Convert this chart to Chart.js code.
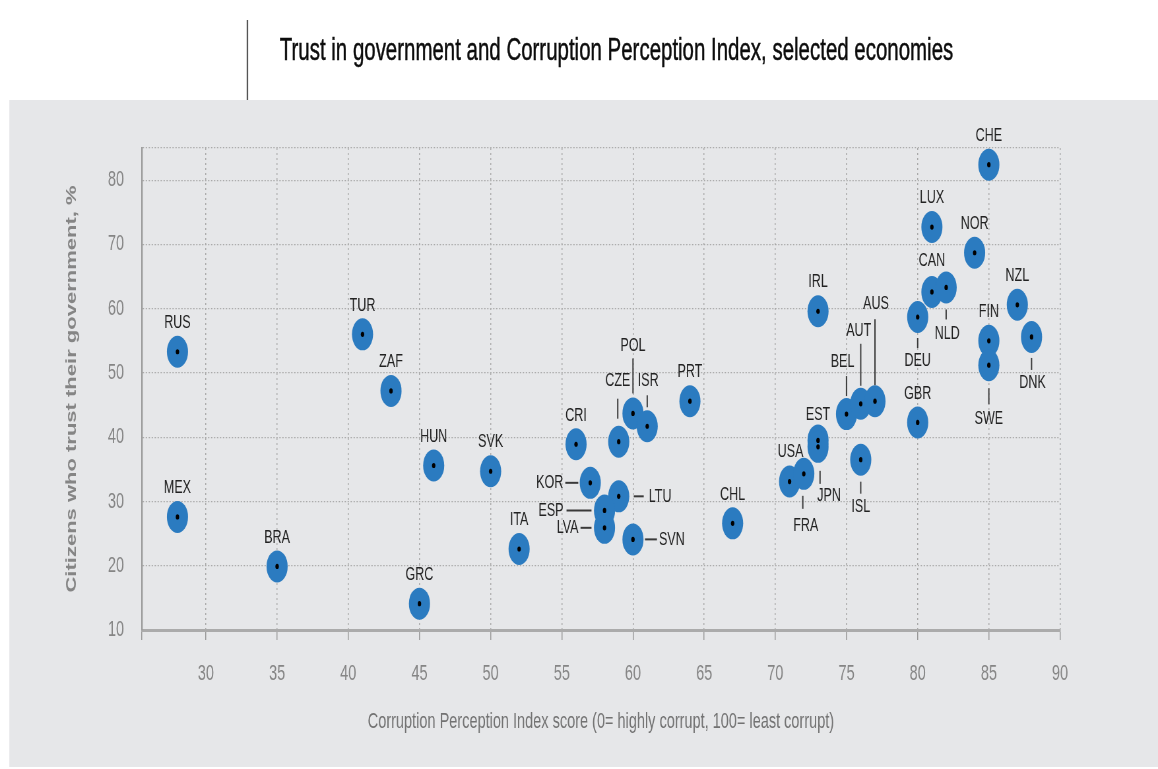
<!DOCTYPE html>
<html>
<head>
<meta charset="utf-8">
<title>Trust in government and Corruption Perception Index</title>
<script src="https://cdn.jsdelivr.net/npm/chart.js@4.4.1/dist/chart.umd.min.js"></script>
<style>
  html, body { margin: 0; padding: 0; background: #fff; overflow: hidden; }
  /* the source graphic is squeezed sideways, so the whole stage is drawn wide and scaled down */
  #stage { position: absolute; left: 0; top: 0; width: 1755px; height: 769px; transform-origin: 0 0; transform: scaleX(0.65983); }
  #panel { position: absolute; left: 14px; top: 100px; width: 1741px; height: 667px; background: #e6e7e9; }
  #rule { position: absolute; left: 374px; top: 20px; width: 1.6px; height: 80px; background: #555; }
  #title { position: absolute; left: 424px; top: 32px; font: 31px "Liberation Sans", Arial, sans-serif; line-height: 36px; color: #0d0d0d; white-space: nowrap; -webkit-text-stroke: 0.5px #0d0d0d; }
  #box { position: absolute; left: 0; top: 0; width: 1755px; height: 769px; }
</style>
</head>
<body>
<div id="stage">
  <div id="panel"></div>
  <div id="rule"></div>
  <div id="title">Trust in government and Corruption Perception Index, selected economies</div>
  <div id="box"><canvas id="chart"></canvas></div>
</div>
<script>
const SX = 1158 / 1755;

// economies, CPI score (x) and % who trust their government (y)
const codes = ['RUS','MEX','BRA','TUR','ZAF','HUN','GRC','SVK','ITA','CRI',
               'KOR','CZE','POL','ISR','PRT','LTU','ESP','LVA','SVN','CHL',
               'IRL','EST','JPN','USA','FRA','BEL','AUT','AUS','ISL','GBR',
               'DEU','CAN','LUX','NLD','NOR','CHE','FIN','SWE','NZL','DNK'];
const cpi = [28, 28, 35, 41, 43, 46, 45, 50, 52, 56,
             57, 59, 60, 61, 64, 59, 58, 58, 60, 67,
             73, 73, 73, 71, 72, 75, 76, 77, 76, 80,
             80, 81, 81, 82, 84, 85, 85, 85, 87, 88];
const trust = [53.3, 27.6, 19.9, 56.0, 47.2, 35.6, 14.1, 34.7, 22.6, 38.9,
               32.9, 39.3, 43.7, 41.7, 45.6, 30.8, 28.6, 25.9, 24.1, 26.6,
               59.6, 39.5, 38.5, 33.1, 34.3, 43.6, 45.2, 45.6, 36.5, 42.3,
               58.7, 62.6, 72.7, 63.3, 68.7, 82.4, 55.0, 51.2, 60.6, 55.6];

const xTicksStep = 5;
const yTicksStep = 10;

// label placement (screen px relative to the point): [dx, dy, align, leader x1, y1, x2, y2]
const labelPlace = {
  POL: [0, -68, 'center', 0, -55, 0, -20],
  CZE: [-1, -61, 'center', -1, -43, -1, -23],
  ISR: [1, -46, 'center', 0, -31, 0, -19],
  KOR: [-27, 0, 'right', -25, 0, -12, 0],
  ESP: [-41, 0, 'right', -38, 0, -13, 0],
  LVA: [-26, 0, 'right', -24, 0, -13, 0],
  LTU: [30, 0, 'left', 15, 0, 25, 0],
  SVN: [26, 0, 'left', 12, 0, 24, 0],
  BEL: [-4, -52, 'center', 0, -38, 0, -18],
  AUT: [-2, -73, 'center', 0, -60, 0, -18],
  AUS: [1, -97, 'center', 0, -82, 0, -16],
  EST: [0, -26, 'center'],
  JPN: [11, 49, 'center', 2, 24, 2, 37],
  FRA: [2, 52, 'center', -1, 22, -1, 35],
  ISL: [0, 47, 'center', 0, 22, 0, 34],
  DEU: [0, 44, 'center', 0, 21, 0, 31],
  NLD: [1, 46, 'center', 0, 22, 0, 32],
  SWE: [0, 54, 'center', 0, 23, 0, 39],
  DNK: [1, 46, 'center', 0, 21, 0, 33],
  CAN: [0, -31, 'center'],
  USA: [1, -30, 'center']
};

const points = codes.map((c, i) => ({ x: cpi[i], y: trust[i] }));

const codeLabels = {
  id: 'codeLabels',
  afterDatasetsDraw(chart) {
    const ctx = chart.ctx;
    const meta = chart.getDatasetMeta(0);
    ctx.save();
    ctx.font = '19px "Liberation Sans", Arial, sans-serif';
    ctx.fillStyle = '#222';
    ctx.strokeStyle = '#3a3a3a';
    ctx.lineWidth = 2;
    ctx.textBaseline = 'middle';
    meta.data.forEach((p, i) => {
      const pl = labelPlace[codes[i]] || [0, -29, 'center'];
      if (pl.length > 3) {
        ctx.beginPath();
        ctx.moveTo(p.x + pl[3] / SX, p.y + pl[4]);
        ctx.lineTo(p.x + pl[5] / SX, p.y + pl[6]);
        ctx.stroke();
      }
      ctx.textAlign = pl[2];
      ctx.fillText(codes[i], p.x + pl[0] / SX, p.y + pl[1]);
    });
    ctx.restore();
  }
};

new Chart(document.getElementById('chart').getContext('2d'), {
  type: 'scatter',
  data: {
    datasets: [
      { data: points, order: 2, pointRadius: 16, pointHoverRadius: 16, backgroundColor: '#2b7bc0', borderWidth: 0, clip: false },
      { data: points, order: 1, pointRadius: 2.6, pointHoverRadius: 2.6, backgroundColor: '#000', borderWidth: 0, clip: false }
    ]
  },
  options: {
    responsive: true,
    maintainAspectRatio: false,
    animation: false,
    events: [],
    layout: { padding: { top: 148, right: 148.5, bottom: 34, left: 0 } },
    plugins: { legend: { display: false }, tooltip: { enabled: false } },
    scales: {
      x: {
        type: 'linear', min: 25.5, max: 90,
        afterFit: s => { s.height = 105; },
        ticks: {
          stepSize: xTicksStep, padding: 21, color: '#858585',
          font: { family: '"Liberation Sans", Arial, sans-serif', size: 22 },
          callback: v => (v % xTicksStep === 0 ? v : '')
        },
        grid: { color: '#a9a9a9', lineWidth: 1.5, drawTicks: true, tickLength: 10, tickColor: '#999', tickWidth: 1.5, tickBorderDash: [] },
        border: { display: true, color: '#ababab', width: 3, dash: [2, 3] },
        title: {
          display: true, text: 'Corruption Perception Index score (0= highly corrupt, 100= least corrupt)',
          color: '#727272', padding: { top: 0, bottom: 0 },
          font: { family: '"Liberation Sans", Arial, sans-serif', size: 22 }
        }
      },
      y: {
        type: 'linear', min: 10, max: 85,
        afterFit: s => { s.width = 215; },
        ticks: {
          stepSize: yTicksStep, padding: 27, color: '#858585',
          font: { family: '"Liberation Sans", Arial, sans-serif', size: 22 },
          callback: v => (v % yTicksStep === 0 ? v : '')
        },
        grid: { color: '#a9a9a9', lineWidth: 1.2, drawTicks: false },
        border: { display: true, color: '#9a9a9a', width: 2.3, dash: [2, 2.5] },
        title: {
          display: true, text: 'Citizens who trust their government, %',
          color: '#858585', padding: { top: 96, bottom: 0 },
          font: { family: '"Liberation Sans", Arial, sans-serif', size: 22, weight: 'bold' }
        }
      }
    }
  },
  plugins: [codeLabels]
});
</script>
</body>
</html>
